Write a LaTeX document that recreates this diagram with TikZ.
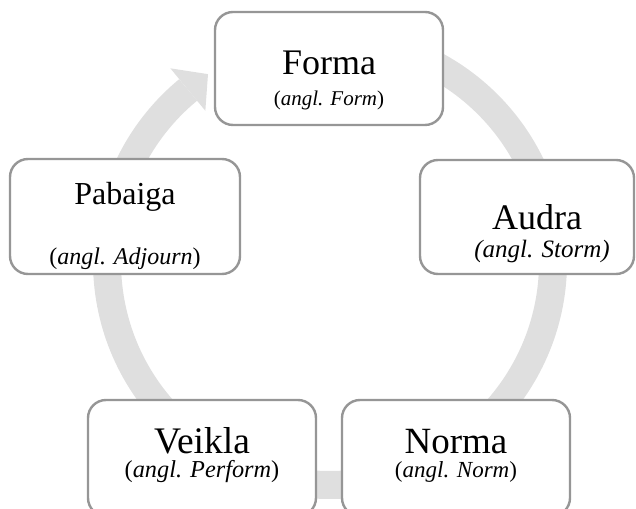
\documentclass[tikz,border=0pt]{standalone}
\usepackage{fontspec}
\setmainfont{Liberation Serif}
\usetikzlibrary{calc}

\definecolor{bandgrey}{RGB}{223,223,223}
\definecolor{edgegrey}{RGB}{150,150,150}

\newcommand{\fsz}[1]{\fontsize{#1}{#1}\selectfont}

\tikzset{
  stagebox/.style={draw=edgegrey, line width=2.4pt, fill=white,
    rounded corners=18pt, inner sep=0pt},
  maintext/.style={anchor=base, inner sep=0pt, font=\fsz{36}},
  subtext/.style={anchor=base, inner sep=0pt, font=\fsz{24}},
}

\begin{document}
\begin{tikzpicture}[x=1pt, y=1pt]
  \useasboundingbox (0,0) rectangle (636,508);
  \clip (0,0) rectangle (636,508);

  % circular band behind the stages
  \coordinate (c) at (330,246);
  \draw[bandgrey, line width=28pt] ($(c)+(95:223)$)
    arc[start angle=95, end angle=-230.5, radius=223];
  \fill[bandgrey] ($(c)+(129.5:251)$) -- ($(c)+(123:224)$)
    -- ($(c)+(129.5:196)$) -- cycle;

  % stage boxes
  \node[stagebox, minimum width=228pt, minimum height=113pt] (forma)   at (329,439.5) {};
  \node[stagebox, minimum width=214pt, minimum height=114pt] (audra)   at (527,291)   {};
  \node[stagebox, minimum width=230pt, minimum height=115pt] (pabaiga) at (125,291.5) {};
  \node[stagebox, minimum width=228pt, minimum height=116pt] (veikla)  at (202,50)    {};
  \node[stagebox, minimum width=228pt, minimum height=116pt] (norma)   at (456,50)    {};

  % labels
  \node[maintext] (formaT) at (329,433) {Forma};
  \node[subtext, font=\fsz{21}] (formaS) at (329,402.5) {(\textit{angl. Form})};

  \node[maintext] (audraT) at (537,278) {Audra};
  \node[subtext, font=\fsz{25}] (audraS) at (542,250) {\textit{(angl. Storm)}};

  \node[maintext, font=\fsz{32}] (pabaigaT) at (125,303) {Pabaiga};
  \node[subtext]  (pabaigaS) at (125,243) {(\textit{angl. Adjourn})};

  \node[maintext, font=\fsz{37.5}] (veiklaT) at (202,55) {Veikla};
  \node[subtext, font=\fsz{24.3}]  (veiklaS) at (202,31) {(\textit{angl. Perform})};

  \node[maintext, font=\fsz{37}] (normaT) at (456,55) {Norma};
  \node[subtext, font=\fsz{23}]  (normaS) at (456,31) {(\textit{angl. Norm})};
\end{tikzpicture}
\end{document}
